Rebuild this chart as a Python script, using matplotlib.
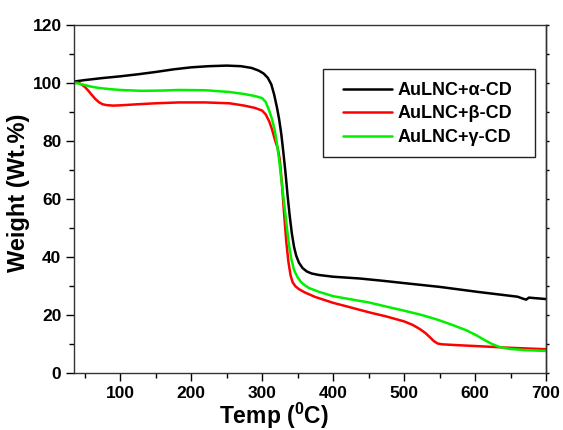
import matplotlib
matplotlib.use("Agg")
import matplotlib.pyplot as plt
from matplotlib.ticker import MultipleLocator, NullFormatter
from matplotlib.patches import Rectangle

plt.rcParams['font.family'] = ['Liberation Sans', 'DejaVu Sans']
plt.rcParams['font.weight'] = 'bold'
plt.rcParams['mathtext.fontset'] = 'custom'
plt.rcParams['mathtext.rm'] = 'Liberation Sans:bold'
plt.rcParams['mathtext.bf'] = 'Liberation Sans:bold'

labels = ['AuLNC+α-CD', 'AuLNC+β-CD', 'AuLNC+γ-CD']
colors = ['#000000', '#ff0000', '#00f000']

temp_alpha = [35, 50, 75, 100, 125, 150, 175, 200, 225, 250, 270, 285, 295, 302, 308, 313, 317, 321,
              324, 327, 330, 333, 336, 339, 342, 345, 348, 352, 357, 363, 370, 380, 400, 437, 470,
              500, 550, 606, 640, 660, 668, 672, 676, 685, 700]
wt_alpha = [100.5, 101.0, 101.7, 102.3, 103.0, 103.8, 104.7, 105.4, 105.8, 106.0, 105.8, 105.2, 104.3,
            103.3, 101.8, 99.5, 96.0, 91.5, 87.5, 82.5, 76.0, 69.0, 61.0, 54.0, 48.0, 43.5, 40.5,
            38.0, 36.2, 35.0, 34.3, 33.8, 33.2, 32.6, 31.8, 31.0, 29.7, 27.9, 26.9, 26.3, 25.6,
            25.3, 26.0, 25.8, 25.5]

temp_beta = [35, 40, 45, 50, 55, 60, 65, 70, 75, 80, 90, 100, 127, 150, 183, 220, 254, 275, 290, 300,
             305, 310, 314, 318, 322, 325, 328, 331, 334, 337, 340, 343, 347, 352, 360, 375, 400, 425,
             451, 475, 500, 512, 522, 530, 537, 542, 547, 553, 575, 600, 649, 700]
wt_beta = [100.2, 100.2, 99.6, 98.7, 97.4, 95.9, 94.5, 93.4, 92.7, 92.4, 92.2, 92.3, 92.7, 93.0, 93.3,
           93.3, 93.0, 92.2, 91.4, 90.5, 89.2, 86.8, 84.0, 80.5, 77.5, 73.5, 65.0, 55.0, 45.5, 38.5,
           33.8, 31.3, 29.9, 28.9, 27.8, 26.2, 24.2, 22.6, 20.9, 19.5, 17.8, 16.6, 15.2, 13.8, 12.2,
           11.0, 10.2, 9.9, 9.6, 9.3, 8.7, 8.2]

temp_gamma = [35, 42, 50, 60, 70, 85, 100, 130, 160, 183, 220, 254, 275, 290, 300, 305, 310, 314, 318,
              321, 324, 328, 332, 335, 338, 341, 345, 350, 355, 360, 366, 380, 400, 425, 451, 475, 500,
              525, 547, 570, 588, 602, 613, 624, 634, 649, 670, 700]
wt_gamma = [100.0, 99.8, 99.3, 98.7, 98.3, 97.9, 97.6, 97.3, 97.4, 97.6, 97.5, 96.9, 96.2, 95.5, 94.8,
            93.5, 90.5, 87.5, 83.5, 79.0, 73.5, 65.0, 56.5, 50.0, 44.0, 39.5, 35.5, 33.0, 31.3, 30.3,
            29.3, 28.0, 26.5, 25.4, 24.3, 22.9, 21.5, 20.0, 18.4, 16.4, 14.7, 13.0, 11.4, 10.0, 9.0,
            8.3, 7.9, 7.6]

x_ticks = [100, 200, 300, 400, 500, 600, 700]
y_ticks = [0, 20, 40, 60, 80, 100, 120]

W, H = 563, 430
L, R, B, T = 74, 546, 373, 25
fig = plt.figure(figsize=(W/100, H/100), dpi=100)
ax = fig.add_axes([L/W, 1-B/H, (R-L)/W, (B-T)/H])

for t, w, lab, c in zip([temp_alpha, temp_beta, temp_gamma],
                        [wt_alpha, wt_beta, wt_gamma], labels, colors):
    ax.plot(t, w, color=c, lw=1.8, label=lab, solid_joinstyle='round', solid_capstyle='round')

ax.set_xlim(35, 700)
ax.set_ylim(0, 120)
ax.set_xticks(x_ticks)
ax.set_yticks(y_ticks)
ax.xaxis.set_minor_locator(MultipleLocator(50))
ax.yaxis.set_minor_locator(MultipleLocator(10))
ax.tick_params(which='major', direction='out', length=6, width=1, labelsize=12.5, pad=3)
ax.tick_params(which='minor', direction='out', length=3.5, width=1)
for lbl in ax.get_xticklabels() + ax.get_yticklabels():
    lbl.set_fontweight('bold')
for s in ax.spines.values():
    s.set_linewidth(1.0)
    s.set_color('#333333')

sec = ax.secondary_yaxis('right')
sec.set_yticks(y_ticks)
sec.yaxis.set_minor_locator(MultipleLocator(10))
sec.yaxis.set_major_formatter(NullFormatter())
sec.tick_params(which='both', direction='out', length=2.5, width=1)
sec.spines['right'].set_linewidth(1.0)
sec.spines['right'].set_color('#333333')

ax.set_xlabel(r'Temp ($^{\mathbf{0}}$C)', fontsize=16.5, fontweight='bold')
ax.xaxis.set_label_coords((274 - L) / (R - L), -(424 - B) / (B - T), transform=ax.transAxes)
ax.xaxis.label.set_va('baseline')
ax.set_ylabel('Weight (Wt.%)', fontsize=17, fontweight='bold')
ax.yaxis.set_label_coords(-(L - 19) / (R - L), (B - 193) / (B - T), transform=ax.transAxes)
ax.yaxis.label.set_va('center')

# legend frame drawn as a box in axes coordinates
box_l, box_r, box_t, box_b = 323, 535, 69, 157
ax.add_patch(Rectangle(((box_l - L) / (R - L), (B - box_b) / (B - T)),
                       (box_r - box_l) / (R - L), (box_b - box_t) / (B - T),
                       transform=ax.transAxes, fill=True, facecolor='white',
                       edgecolor='#222222', lw=1.0, zorder=4))
leg = ax.legend(loc='upper left', bbox_to_anchor=((343 - L) / (R - L), (B - 82) / (B - T)),
                frameon=False, fontsize=13, handlelength=2.7,
                labelspacing=0.36, borderpad=0, handletextpad=0.3, borderaxespad=0)
leg.set_zorder(5)
for txt in leg.get_texts():
    txt.set_fontweight('bold')

fig.savefig('out.png', dpi=100)
